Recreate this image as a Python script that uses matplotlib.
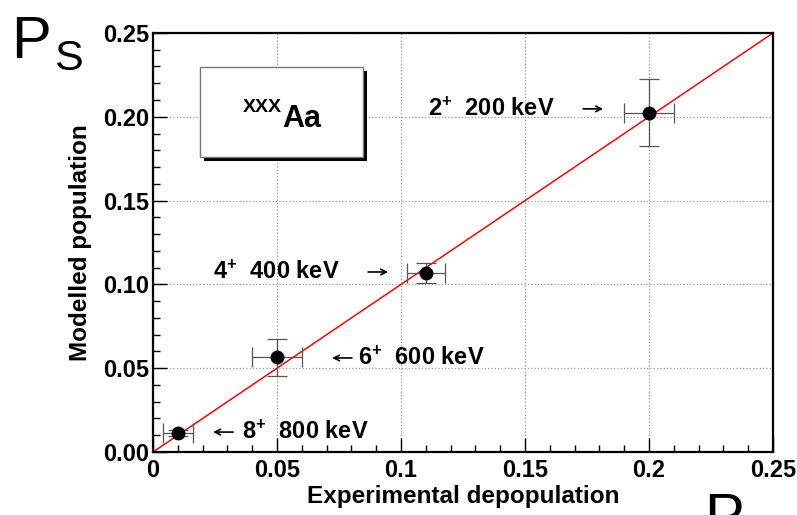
import matplotlib.pyplot as plt
from matplotlib.patches import Rectangle

plt.rcParams['font.family'] = ['Liberation Sans', 'DejaVu Sans']
plt.rcParams['mathtext.fontset'] = 'custom'
plt.rcParams['mathtext.rm'] = 'Liberation Sans:bold'
plt.rcParams['mathtext.bf'] = 'Liberation Sans:bold'
plt.rcParams['mathtext.default'] = 'bf'

# experimental depopulation vs modelled population per level
levels = ['2', '4', '6', '8']
energies = [200, 400, 600, 800]
exp_x = [0.200, 0.110, 0.050, 0.010]
exp_xerr = [0.010, 0.0077, 0.010, 0.006]
mod_y = [0.2025, 0.107, 0.0565, 0.0113]
mod_yerr = [0.020, 0.006, 0.011, 0.002]

x_ticks = [0, 0.05, 0.1, 0.15, 0.2, 0.25]
x_ticklabels = ['0', '0.05', '0.1', '0.15', '0.2', '0.25']
y_ticks = [0, 0.05, 0.10, 0.15, 0.20, 0.25]
y_ticklabels = ['0.00', '0.05', '0.10', '0.15', '0.20', '0.25']
minor_ticks = [i * 0.01 for i in range(26)]

fig = plt.figure(figsize=(7.97, 5.15), dpi=100)
ax = fig.add_axes([0.192, 0.1223, 0.778, 0.8137])

ax.plot([0, 0.25], [0, 0.25], color='red', lw=1.1, zorder=2)
ax.errorbar(exp_x, mod_y, xerr=exp_xerr, yerr=mod_yerr, fmt='o', color='black',
            ms=9, ecolor='#555555', elinewidth=0.9, capsize=7, capthick=0.9, zorder=3)

ax.set_xlim(0, 0.25)
ax.set_ylim(0, 0.25)
ax.set_xticks(x_ticks)
ax.set_xticklabels(x_ticklabels)
ax.set_yticks(y_ticks)
ax.set_yticklabels(y_ticklabels)
ax.set_xticks(minor_ticks, minor=True)
ax.set_yticks(minor_ticks, minor=True)
ax.tick_params(which='both', direction='in', top=False, right=False, width=1)
ax.tick_params(which='major', length=10, labelsize=17)
ax.tick_params(which='minor', length=5)
ax.tick_params(axis='x', pad=5)
ax.tick_params(axis='y', pad=3)
for lab in ax.get_xticklabels() + ax.get_yticklabels():
    lab.set_fontweight('bold')
ax.grid(True, which='major', ls=':', color='#999999', lw=0.9)
for sp in ax.spines.values():
    sp.set_linewidth(1.6)

ax.set_xlabel('Experimental depopulation', fontsize=17.5, fontweight='bold', labelpad=2)
ax.set_ylabel('Modelled population', fontsize=17.5, fontweight='bold', labelpad=8)

# level labels with arrows
text_pos = [(0.1109, 0.2047), (0.0242, 0.1074), (0.0827, 0.0561), (0.0359, 0.0119)]
arrows = [((0.1734, 0.2047), (0.1815, 0.2047)),
          ((0.0867, 0.1074), (0.0948, 0.1074)),
          ((0.0802, 0.0561), (0.0722, 0.0561)),
          ((0.0323, 0.0119), (0.0242, 0.0119))]
for lv, en, (tx, ty), (a0, a1) in zip(levels, energies, text_pos, arrows):
    ax.text(tx, ty, f'{lv}$^{{+}}$  {en} keV', fontsize=17, fontweight='bold',
            va='center', ha='left')
    ax.annotate('', xy=a1, xytext=a0,
                arrowprops=dict(arrowstyle='->', lw=1.2, color='black',
                                shrinkA=0, shrinkB=0))

# nucleus label box with shadow
ax.add_patch(Rectangle((0.0823, 0.694), 0.263, 0.215, transform=ax.transAxes,
                       facecolor='black', edgecolor='none', zorder=4))
ax.add_patch(Rectangle((0.0758, 0.704), 0.263, 0.215, transform=ax.transAxes,
                       facecolor='white', edgecolor='#777777', lw=1, zorder=5))
ax.text(0.207, 0.822, 'XXX', transform=ax.transAxes, fontsize=14,
        fontweight='bold', ha='right', va='center', zorder=6)
ax.text(0.208, 0.795, 'Aa', transform=ax.transAxes, fontsize=22,
        fontweight='bold', ha='left', va='center', zorder=6)

fig.text(0.014, 0.887, 'P', fontsize=43, va='baseline', ha='left')
fig.text(0.068, 0.864, 'S', fontsize=31, va='baseline', ha='left')
fig.text(0.883, -0.039, 'P', fontsize=43, va='baseline', ha='left')

fig.savefig('out.png', dpi=100)
